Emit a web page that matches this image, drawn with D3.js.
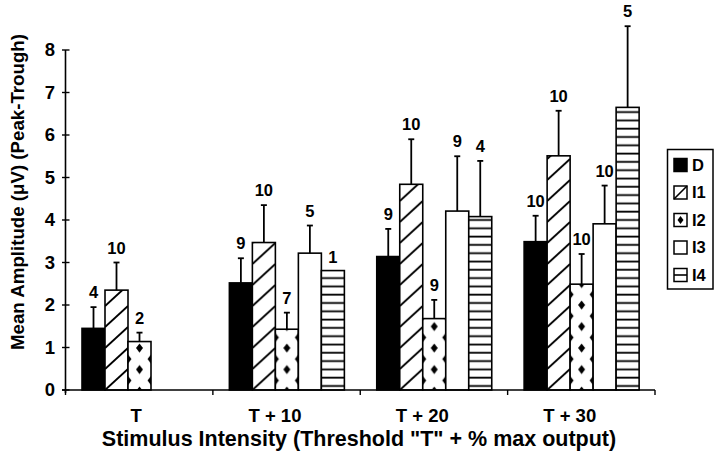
<!DOCTYPE html>
<html><head><meta charset="utf-8">
<script src="https://cdn.jsdelivr.net/npm/d3@7/dist/d3.min.js"></script>
<style>body{margin:0;background:#fff}text{font-family:"Liberation Sans",Arial,sans-serif;font-weight:bold;fill:#000}</style>
</head><body>
<script>
const categories = ["T", "T + 10", "T + 20", "T + 30"];
const series = ["D", "I1", "I2", "I3", "I4"];
// mean amplitudes per series (null = no bar)
const meanD  = [1.45, 2.52, 3.14, 3.49];
const meanI1 = [2.35, 3.47, 4.84, 5.51];
const meanI2 = [1.14, 1.43, 1.68, 2.49];
const meanI3 = [null, 3.22, 4.21, 3.91];
const meanI4 = [null, 2.81, 4.08, 6.65];
// error (SEM) above the bar
const errD  = [0.50, 0.58, 0.65, 0.61];
const errI1 = [0.65, 0.88, 1.06, 1.06];
const errI2 = [0.21, 0.39, 0.44, 0.71];
const errI3 = [null, 0.65, 1.29, 0.90];
const errI4 = [null, null, 1.31, 1.91];
// n labels
const nD  = [4, 9, 9, 10];
const nI1 = [10, 10, 10, 10];
const nI2 = [2, 7, 9, 10];
const nI3 = [null, 5, 9, 10];
const nI4 = [null, 1, 4, 5];
const yTicks = [0, 1, 2, 3, 4, 5, 6, 7, 8];
const yTitle = "Mean Amplitude (\u03bcV) (Peak-Trough)";
const xTitle = "Stimulus Intensity (Threshold \"T\" + % max output)";

const means = [meanD, meanI1, meanI2, meanI3, meanI4];
const errs = [errD, errI1, errI2, errI3, errI4];
const ns = [nD, nI1, nI2, nI3, nI4];

const W = 720, H = 454;
const svg = d3.select("body").append("svg").attr("width", W).attr("height", H);
svg.append("rect").attr("width", W).attr("height", H).attr("fill", "#fff");
const defs = svg.append("defs");

const x0 = d3.scaleBand().domain(categories).range([65.5, 655]);
const x1 = d3.scaleBand().domain(series).range([16.5, 131.5]);
const y = d3.scaleLinear().domain([0, 8]).range([390, 50]);
const bw = x1.bandwidth();

function makePattern(s, id, px, py) {
  if (s === "I1") {
    const h = 21;
    const p = defs.append("pattern").attr("id", id).attr("patternUnits", "userSpaceOnUse")
      .attr("x", px).attr("y", py).attr("width", bw).attr("height", h);
    p.append("rect").attr("width", bw).attr("height", h).attr("fill", "#fff");
    [-h, 0, h].forEach(o => p.append("line").attr("x1", 0).attr("y1", h + o).attr("x2", bw).attr("y2", o)
      .attr("stroke", "#000").attr("stroke-width", 2));
  } else if (s === "I2") {
    const h = 21.5;
    const p = defs.append("pattern").attr("id", id).attr("patternUnits", "userSpaceOnUse")
      .attr("x", px).attr("y", py).attr("width", bw).attr("height", h);
    p.append("rect").attr("width", bw).attr("height", h).attr("fill", "#fff");
    const dia = (cx, cy) => `M${cx},${cy - 4.5}L${cx + 3.5},${cy}L${cx},${cy + 4.5}L${cx - 3.5},${cy}Z`;
    [[bw / 2, 1], [bw / 2, 1 + h], [0, 12], [bw, 12]].forEach(([cx, cy]) =>
      p.append("path").attr("d", dia(cx, cy)).attr("fill", "#000"));
  } else if (s === "I4") {
    const h = 8.3;
    const p = defs.append("pattern").attr("id", id).attr("patternUnits", "userSpaceOnUse")
      .attr("x", px).attr("y", py).attr("width", bw).attr("height", h);
    p.append("rect").attr("width", bw).attr("height", h).attr("fill", "#fff");
    p.append("rect").attr("x", 0).attr("y", 3.4).attr("width", bw).attr("height", 1.8).attr("fill", "#000");
  }
}
function fillFor(s, id, px, py) {
  if (s === "D") return "#000";
  if (s === "I3") return "#fff";
  makePattern(s, id, px, py);
  return `url(#${id})`;
}

// bars
const bars = [];
categories.forEach((c, gi) => {
  series.forEach((s, si) => {
    const v = means[si][gi];
    if (v == null) return;
    bars.push({c, s, gi, si, v, e: errs[si][gi], n: ns[si][gi]});
  });
});

const g = svg.append("g");
bars.forEach(b => {
  const bx = x0(b.c) + x1(b.s);
  const fill = fillFor(b.s, `p-${b.si}-${b.gi}`, bx, y(0));
  g.append("rect").attr("x", bx).attr("y", y(b.v)).attr("width", bw).attr("height", y(0) - y(b.v))
    .attr("fill", fill).attr("stroke", "#000").attr("stroke-width", 1.6);
  const cx = bx + bw / 2;
  let topY = y(b.v);
  if (b.e != null) {
    const ey = y(b.v + b.e);
    g.append("line").attr("x1", cx).attr("x2", cx).attr("y1", y(b.v)).attr("y2", ey)
      .attr("stroke", "#000").attr("stroke-width", 1.8);
    g.append("line").attr("x1", cx - 3).attr("x2", cx + 3).attr("y1", ey).attr("y2", ey)
      .attr("stroke", "#000").attr("stroke-width", 1.8);
    topY = ey - 1;
  }
  g.append("text").attr("x", cx).attr("y", topY - 8).attr("text-anchor", "middle")
    .attr("font-size", 16.5).text(b.n);
});

// axes
const ax = svg.append("g");
ax.append("line").attr("x1", 65.5).attr("x2", 65.5).attr("y1", y(8)).attr("y2", 393)
  .attr("stroke", "#000").attr("stroke-width", 1.6);
ax.append("line").attr("x1", 62).attr("x2", 655).attr("y1", 390).attr("y2", 390)
  .attr("stroke", "#000").attr("stroke-width", 1.6);
yTicks.forEach(t => {
  ax.append("line").attr("x1", 62).attr("x2", 69.5).attr("y1", y(t)).attr("y2", y(t))
    .attr("stroke", "#000").attr("stroke-width", 1.4);
  ax.append("text").attr("x", 55).attr("y", y(t)).attr("dy", "0.35em").attr("text-anchor", "end")
    .attr("font-size", 18.5).text(t);
});
const bounds = categories.map(c => x0(c)).concat([x0(categories[categories.length - 1]) + x0.bandwidth()]);
bounds.forEach(bx => ax.append("line").attr("x1", bx).attr("x2", bx).attr("y1", 390).attr("y2", 395)
  .attr("stroke", "#000").attr("stroke-width", 1.4));
categories.forEach(c => {
  const t = ax.append("text").attr("x", x0(c) + x0.bandwidth() / 2).attr("y", 421.5)
    .attr("text-anchor", "middle").attr("font-size", 18.5).text(c);
  const w = t.node().getComputedTextLength();
  t.attr("dx", -0.75 - 0.2045 * w);
});
svg.append("text").attr("x", 359).attr("y", 446).attr("text-anchor", "middle")
  .attr("font-size", 21.5).text(xTitle);
svg.append("text").attr("transform", "translate(23.5,192) rotate(-90)").attr("text-anchor", "middle")
  .attr("font-size", 18.7).text(yTitle);

// legend
const lg = svg.append("g");
lg.append("rect").attr("x", 667.5).attr("y", 149.5).attr("width", 45.5).attr("height", 139.5)
  .attr("fill", "#fff").attr("stroke", "#000").attr("stroke-width", 1.5);
series.forEach((s, i) => {
  const cy = 165 + i * 27.5;
  const sx = 674, sy = cy - 6.5, sz = 13;
  lg.append("rect").attr("x", sx).attr("y", sy).attr("width", sz).attr("height", sz)
    .attr("fill", s === "D" ? "#000" : "#fff").attr("stroke", "#000").attr("stroke-width", 1.5);
  if (s === "I1") lg.append("line").attr("x1", sx).attr("y1", sy + sz).attr("x2", sx + sz).attr("y2", sy)
    .attr("stroke", "#000").attr("stroke-width", 1.6);
  if (s === "I2") lg.append("path")
    .attr("d", `M${sx + sz / 2},${cy - 4}L${sx + sz / 2 + 3},${cy}L${sx + sz / 2},${cy + 4}L${sx + sz / 2 - 3},${cy}Z`)
    .attr("fill", "#000");
  if (s === "I4") lg.append("line").attr("x1", sx).attr("y1", cy).attr("x2", sx + sz).attr("y2", cy)
    .attr("stroke", "#000").attr("stroke-width", 1.6);
  lg.append("text").attr("x", 692).attr("y", cy).attr("dy", "0.36em").attr("font-size", 16.5).text(s);
});
</script>
</body></html>
